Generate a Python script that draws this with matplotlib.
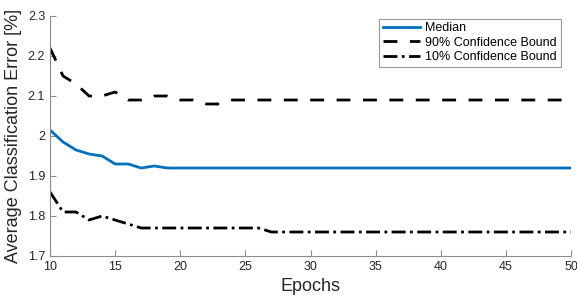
import numpy as np
import matplotlib.pyplot as plt

plt.rcParams['font.family'] = ['Liberation Sans', 'DejaVu Sans']

epochs = np.arange(10, 51)

# median
median = [2.015, 1.985, 1.965, 1.955, 1.95, 1.93, 1.93, 1.92, 1.925, 1.92] + [1.92] * 31

# 90% bound
upper = [2.22, 2.15, 2.13, 2.10, 2.10, 2.11, 2.09, 2.09, 2.10, 2.10,
         2.09, 2.09, 2.08, 2.08] + [2.09] * 27

# 10% bound
lower = [1.86, 1.81, 1.81, 1.79, 1.80, 1.79, 1.78] + [1.77] * 10 + [1.76] * 24

fig = plt.figure(figsize=(5.77, 3.02), dpi=100)
ax = fig.add_axes([50 / 577, 1 - 256 / 302, 521 / 577, 240 / 302])

ax.plot(epochs, median, color='#0072BD', lw=2, label='Median')
ax.plot(epochs, upper, color='black', lw=2, ls=(0, (5, 4.5)), label='90% Confidence Bound')
ax.plot(epochs, lower, color='black', lw=2, ls=(0, (5, 1.6, 1, 1.6)), label='10% Confidence Bound')

ax.set_xlim(10, 50)
ax.set_ylim(1.7, 2.3)
ax.set_xticks(np.arange(10, 51, 5))
ax.set_yticks([1.7, 1.8, 1.9, 2.0, 2.1, 2.2, 2.3])
ax.set_yticklabels(['1.7', '1.8', '1.9', '2', '2.1', '2.2', '2.3'])

for s in ['top', 'right']:
    ax.spines[s].set_visible(False)
for s in ['bottom', 'left']:
    ax.spines[s].set_color('#8c8c8c')
    ax.spines[s].set_linewidth(0.8)
ax.tick_params(direction='in', length=4, color='#8c8c8c', labelcolor='#262626', labelsize=9)

ax.set_xlabel('Epochs', fontsize=13, color='#262626', labelpad=4)
ax.set_ylabel('Average Classification Error [%]', fontsize=13, color='#262626', labelpad=4)

leg = ax.legend(loc='upper right', bbox_to_anchor=(0.985, 1.0), fontsize=9, frameon=True,
                fancybox=False, edgecolor='#808080', handlelength=3, handletextpad=0.4,
                borderpad=0.3, labelspacing=0.2, borderaxespad=0.2)
leg.get_frame().set_linewidth(0.8)

fig.savefig('out.png', dpi=100)
